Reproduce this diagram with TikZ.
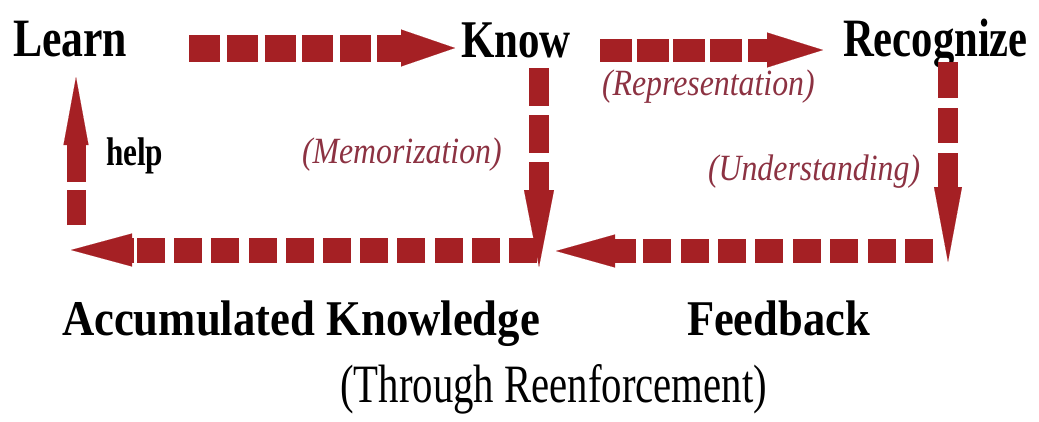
\documentclass[tikz,border=0pt]{standalone}
\usepackage{graphicx}
\usepackage{fontspec}
\setmainfont{Liberation Serif}
\usetikzlibrary{arrows.meta}
\definecolor{arrred}{RGB}{165,32,36}
\definecolor{lblred}{RGB}{140,50,66}
\newcommand\hsq[2]{\scalebox{#1}[1]{#2}}
\tikzset{
  word/.style={anchor=base west, inner sep=0pt, outer sep=0pt, font=\bfseries},
  lbl/.style={anchor=base west, inner sep=0pt, outer sep=0pt, text=lblred, font=\itshape},
  dsh/.style={draw=arrred, line cap=butt},
  hd/.style={draw=arrred, line cap=butt},
}
\begin{document}
\begin{tikzpicture}[x=1pt,y=-1pt]
\useasboundingbox (0,0) rectangle (1039,421);
% words
\node[word] (learn) at (13,56) {\fontsize{54}{60}\selectfont\hsq{0.81}{Learn}};
\node[word] (know) at (461,57) {\fontsize{53}{60}\selectfont\hsq{0.81}{Know}};
\node[word] (recognize) at (843,56) {\fontsize{54}{60}\selectfont\hsq{0.79}{Recognize}};
\node[word] (help) at (106,165) {\fontsize{40}{46}\selectfont\hsq{0.78}{help}};
\node[word] (accum) at (62,335) {\fontsize{50}{56}\selectfont\hsq{0.894}{Accumulated Knowledge}};
\node[word] (feedback) at (687,335) {\fontsize{50}{56}\selectfont\hsq{0.89}{Feedback}};
\node[anchor=base west, inner sep=0pt] (through) at (340,402) {\fontsize{54}{60}\selectfont\hsq{0.755}{(Through Reenforcement)}};
% labels
\node[lbl] (repr) at (602,95) {\fontsize{37}{42}\selectfont\hsq{0.86}{(Representation)}};
\node[lbl] (memo) at (302,163) {\fontsize{37}{42}\selectfont\hsq{0.86}{(Memorization)}};
\node[lbl] (under) at (708,180) {\fontsize{37}{42}\selectfont\hsq{0.86}{(Understanding)}};
% arrow end points
\coordinate (a1s) at (189,48); \coordinate (a1m) at (371,48);
\coordinate (a1n) at (377,48); \coordinate (a1e) at (455,48);
\coordinate (a2s) at (600,50); \coordinate (a2m) at (742,50);
\coordinate (a2n) at (748,50); \coordinate (a2e) at (823,50);
\coordinate (v1s) at (539,68); \coordinate (v1m) at (539,153);
\coordinate (v1n) at (539,162); \coordinate (v1e) at (539,267);
\coordinate (v2s) at (948,62); \coordinate (v2m) at (948,143);
\coordinate (v2n) at (948,153); \coordinate (v2e) at (948,262);
\coordinate (b1s) at (537,250); \coordinate (b1m) at (137,250);
\coordinate (b1n) at (134,250); \coordinate (b1e) at (71,250);
\coordinate (b2s) at (933,251); \coordinate (b2m) at (643,251);
\coordinate (b2n) at (636,251); \coordinate (b2e) at (556,251);
\coordinate (ls) at (76,225); \coordinate (lm) at (76,190);
\coordinate (ln) at (76,182); \coordinate (le) at (76,77);
% Learn -> Know
\draw[dsh, line width=27pt, dash pattern=on 31pt off 6.75pt] (a1s) -- (a1m);
\draw[hd, line width=27pt, -{Triangle[length=54pt,width=37pt,line width=0.1pt]}] (a1n) -- (a1e);
% Know -> Recognize
\draw[dsh, line width=23pt, dash pattern=on 32pt off 4.7pt] (a2s) -- (a2m);
\draw[hd, line width=23pt, -{Triangle[length=56pt,width=35pt,line width=0.1pt]}] (a2n) -- (a2e);
% Know down
\draw[dsh, line width=20pt, dash pattern=on 38pt off 9pt] (v1s) -- (v1m);
\draw[hd, line width=20pt, -{Triangle[length=77pt,width=30pt,line width=0.1pt]}] (v1n) -- (v1e);
% Recognize down
\draw[dsh, line width=20pt, dash pattern=on 36pt off 10pt] (v2s) -- (v2m);
\draw[hd, line width=20pt, -{Triangle[length=75pt,width=28pt,line width=0.1pt]}] (v2n) -- (v2e);
% bottom left
\draw[dsh, line width=25pt, dash pattern=on 28pt off 9.2pt] (b1s) -- (b1m);
\draw[hd, line width=25pt, -{Triangle[length=61pt,width=33pt,line width=0.1pt]}] (b1n) -- (b1e);
% bottom right
\draw[dsh, line width=24pt, dash pattern=on 28pt off 9.4pt] (b2s) -- (b2m);
\draw[hd, line width=24pt, -{Triangle[length=59pt,width=33pt,line width=0.1pt]}] (b2n) -- (b2e);
% left up
\draw[dsh, line width=19pt] (ls) -- (lm);
\draw[hd, line width=19pt, -{Triangle[length=68pt,width=25pt,line width=0.1pt]}] (ln) -- (le);
\end{tikzpicture}
\end{document}
